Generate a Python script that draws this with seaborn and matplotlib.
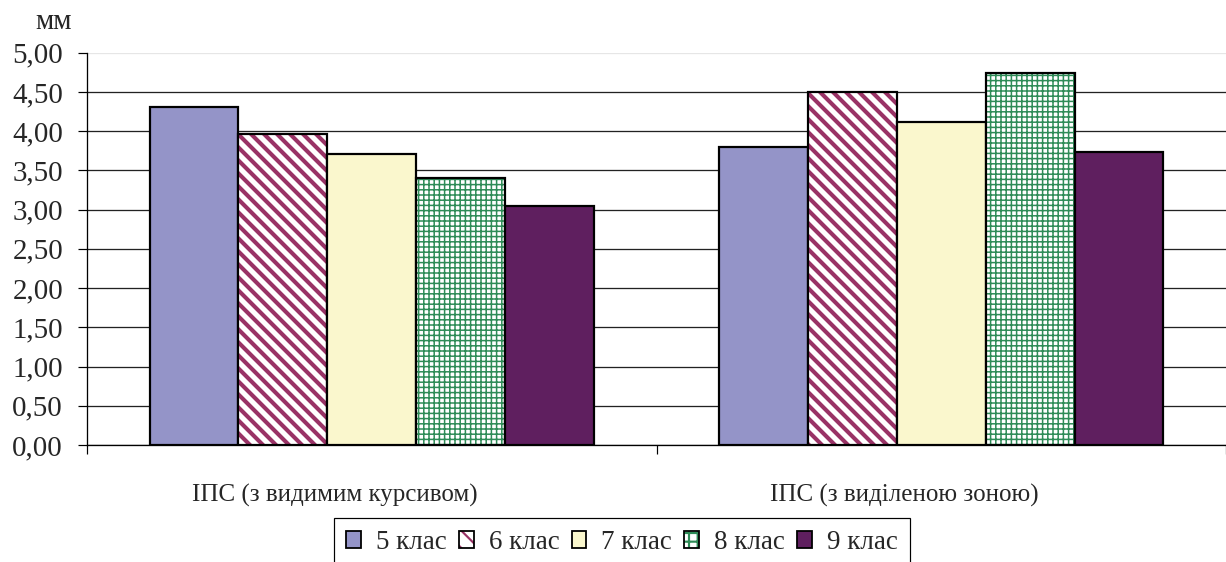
import matplotlib
matplotlib.use("Agg")
import matplotlib as mpl
import matplotlib.pyplot as plt
from matplotlib.patches import Patch, Rectangle
from matplotlib.ticker import FixedLocator, FuncFormatter
from matplotlib.transforms import ScaledTranslation
from matplotlib.colors import to_rgba
import pandas as pd
import seaborn as sns

# data
groups = ["ІПС (з видимим курсивом)", "ІПС (з виділеною зоною)"]
classes = ["5 клас", "6 клас", "7 клас", "8 клас", "9 клас"]
vals_italic = [4.31, 3.97, 3.71, 3.40, 3.04]
vals_zone = [3.80, 4.50, 4.12, 4.74, 3.73]

BS = chr(92)  # backslash
colors = ["#9494C8", "#FFFFFF", "#FAF7CD", "#FFFFFF", "#5F1F5F"]
hatches = [None, BS * 4, None, "+++++", None]
hatch_colors = [None, "#993366", None, "#2E8B57", None]
hatch_lw = [None, 1.9, None, 0.7, None]

DPI = 156
PT = 72 / DPI  # points per pixel

df = pd.DataFrame({
    "group": groups * len(classes),
    "klas": [c for c in classes for _ in groups],
    "value": [v for pair in zip(vals_italic, vals_zone) for v in pair],
})

sns.set_theme(style="white")
plt.rcParams["font.family"] = ["Liberation Serif", "DejaVu Serif"]


def set_hatch(p, hatch, color, lw):
    p.set_hatch(hatch)
    if hasattr(p, "set_hatchcolor"):
        p.set_hatchcolor(color)
    else:
        p._hatch_color = to_rgba(color)
    if hasattr(p, "set_hatch_linewidth"):
        p.set_hatch_linewidth(lw)


fig = plt.figure(figsize=(1226 / DPI, 562 / DPI), dpi=DPI)
ax = fig.add_axes([87 / 1226, 117 / 562, 1 - 87 / 1226, (445 - 52.7) / 562])

sns.barplot(data=df, x="group", y="value", hue="klas", order=groups, hue_order=classes,
            palette=colors, width=0.78, saturation=1, edgecolor="black",
            linewidth=2.2 * PT, legend=False, ax=ax)

# patches come out by hue, then by x
bars = [p for p in ax.patches if isinstance(p, Rectangle)]
for i, p in enumerate(bars):
    k = i // len(groups)
    if hatches[k]:
        set_hatch(p, hatches[k], hatch_colors[k], hatch_lw[k])

ax.set_ylim(0, 5)
ax.set_xlim(-0.5, 1.5)
ax.set_yticks([0, 0.5, 1, 1.5, 2, 2.5, 3, 3.5, 4, 4.5, 5])
ax.yaxis.set_major_formatter(FuncFormatter(lambda v, _: f"{v:.2f}".replace(".", ",")))
ax.grid(axis="y", color="#222222", linewidth=1.3 * PT)
ax.get_ygridlines()[-1].set_color("#e6e6e6")
ax.set_axisbelow(True)

ax.xaxis.set_minor_locator(FixedLocator([-0.5, 0.5, 1.5]))
ax.tick_params(axis="x", which="major", length=0, pad=39 * PT, labelsize=25 * PT)
ax.tick_params(axis="x", which="minor", length=9 * PT, width=1.2 * PT, color="black", direction="out", bottom=True)
ax.tick_params(axis="y", length=9 * PT, width=1.2 * PT, color="black", direction="out", left=True,
               labelsize=29 * PT, pad=15 * PT)
ax.set_xlabel("")
ax.set_ylabel("")

# category labels sit a bit left of the bar groups, like in the original
shift = ScaledTranslation(-37 / DPI, 0, fig.dpi_scale_trans)
for lab in ax.get_xticklabels():
    lab.set_transform(lab.get_transform() + shift)

sns.despine(ax=ax, top=True, right=True)
for side in ["left", "bottom"]:
    ax.spines[side].set_color("black")
    ax.spines[side].set_linewidth(1.3 * PT)

fig.text(54 / 1226, 1 - 22 / 562, "мм", ha="center", va="center", fontsize=29 * PT)

handles = []
for k, c in enumerate(classes):
    h = Patch(facecolor=colors[k], edgecolor="black", linewidth=1.8 * PT, label=c)
    if hatches[k]:
        set_hatch(h, BS * 3 if k == 1 else "+++", hatch_colors[k], hatch_lw[k])
    handles.append(h)

leg = fig.legend(handles=handles, loc="upper center", bbox_to_anchor=(622 / 1226, 1 - 518 / 562), ncol=5,
                 fontsize=27 * PT, frameon=True, fancybox=False, framealpha=1, edgecolor="black",
                 handlelength=0.55, handleheight=0.55, handletextpad=0.55, columnspacing=0.45,
                 borderpad=0.45, borderaxespad=0)
leg.get_frame().set_linewidth(1.2 * PT)

fig.savefig("out.png", dpi=DPI)
